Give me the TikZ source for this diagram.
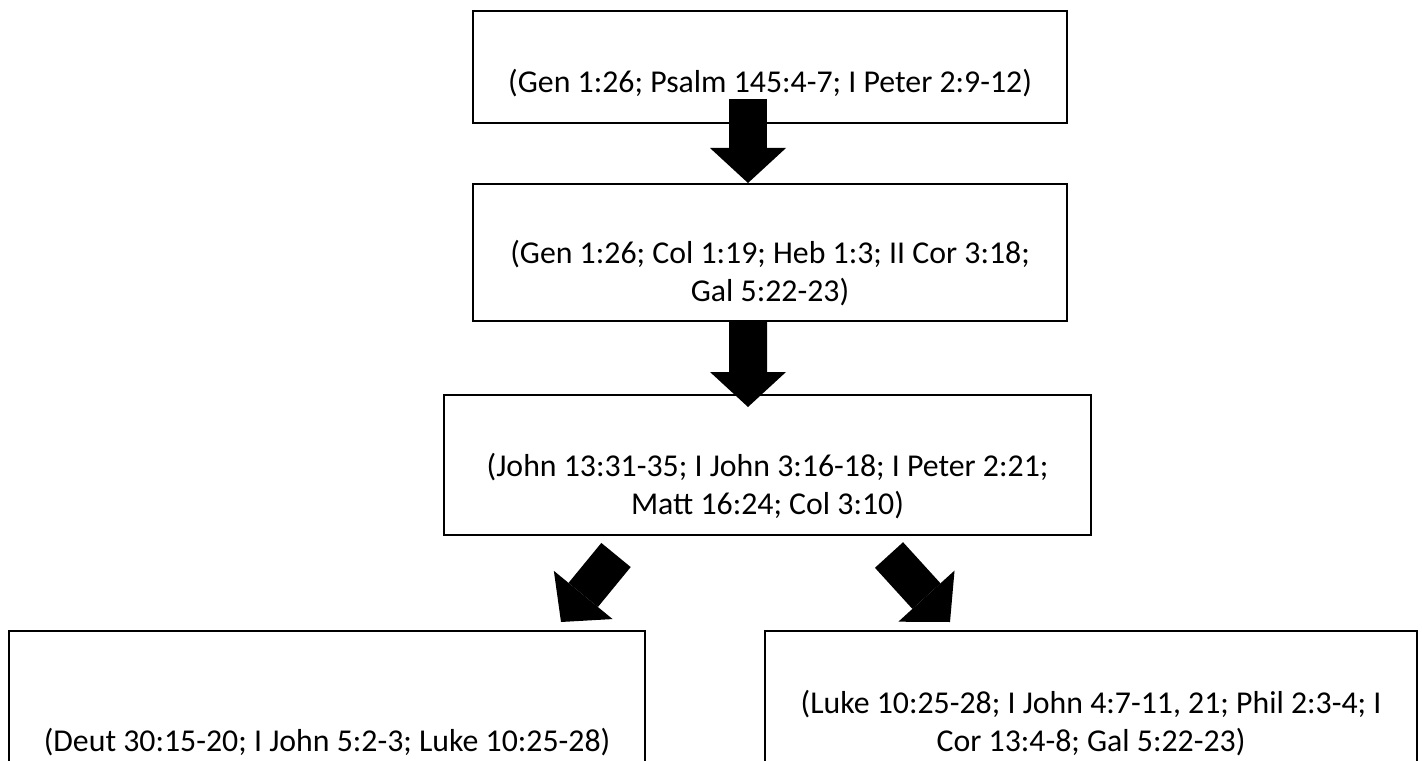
\documentclass[tikz,border=0pt]{standalone}
\usepackage{fontspec}
\setmainfont{Carlito}
\usetikzlibrary{arrows.meta,calc}

\tikzset{
  refbox/.style={draw,line width=0.04cm,inner sep=0pt,align=center,
    font=\fontsize{18.1}{21.6}\selectfont},
  blockarrow/.style={line width=0.76cm,
    -{Triangle[width=1.52cm,length=0.7cm,line width=0pt]}}
}

\begin{document}
\begin{tikzpicture}
    \useasboundingbox (0,0) rectangle (28.44,-15.22);
    \clip (0,0) rectangle (28.44,-15.22);

    % Boxes with the references
    \node[refbox,minimum width=11.88cm,minimum height=2.24cm] (v1) at (15.4,-1.34)
        {\strut\\[-0.2cm](Gen 1:26; Psalm 145:4-7; I Peter 2:9-12)};
    \node[refbox,minimum width=11.88cm,minimum height=2.74cm] (v2) at (15.4,-5.05)
        {\strut\\(Gen 1:26; Col 1:19; Heb 1:3; II Cor 3:18;\\Gal 5:22-23)};
    \node[refbox,minimum width=12.94cm,minimum height=2.8cm] (v3) at (15.35,-9.3)
        {\strut\\(John 13:31-35; I John 3:16-18; I Peter 2:21;\\Matt 16:24; Col 3:10)};

    % Bottom row, cut off by the page
    \node[refbox,minimum width=12.72cm,minimum height=2.84cm] (v4) at (6.54,-14.04)
        {\strut\\\strut\\(Deut 30:15-20; I John 5:2-3; Luke 10:25-28)};
    \node[refbox,minimum width=13.04cm,minimum height=2.84cm] (v5) at (21.82,-14.04)
        {\strut\\(Luke 10:25-28; I John 4:7-11, 21; Phil 2:3-4; I\\Cor 13:4-8; Gal 5:22-23)};

    % Block arrows
    \draw[blockarrow] ([xshift=-0.44cm,yshift=0.5cm]v1.south) -- ([xshift=-0.44cm]v2.north);
    \draw[blockarrow] ([xshift=-0.44cm,yshift=0.04cm]v2.south) -- ([xshift=-0.39cm,yshift=-0.26cm]v3.north);
    \draw[blockarrow] ([xshift=-3.03cm,yshift=-0.38cm]v3.south) -- ([xshift=4.68cm,yshift=0.16cm]v4.north);
    \draw[blockarrow] ([xshift=2.43cm,yshift=-0.38cm]v3.south) -- ([xshift=-2.82cm,yshift=0.16cm]v5.north);
\end{tikzpicture}
\end{document}
